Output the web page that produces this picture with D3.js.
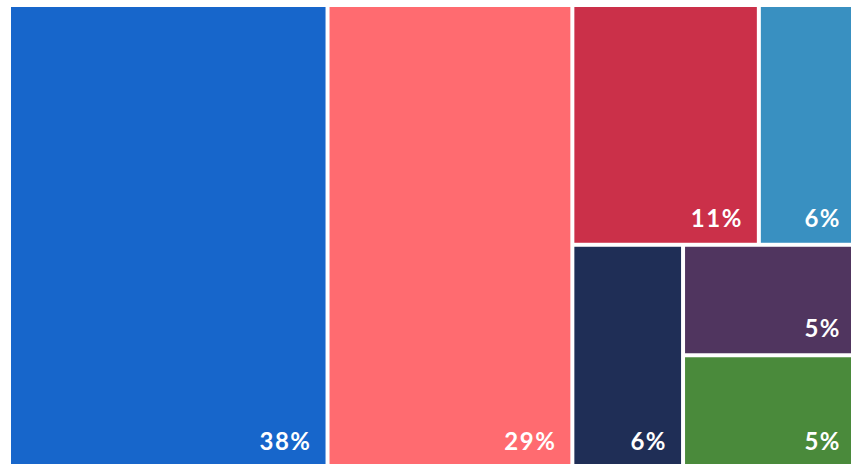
<!DOCTYPE html>
<html>
<head>
<meta charset="utf-8">
<script src="https://cdn.jsdelivr.net/npm/d3@7"></script>
<style>
  body { margin: 0; background: #fff; }
  text { font-family: Lato, "Open Sans", sans-serif; font-weight: 700; fill: #fff; }
</style>
</head>
<body>
<script>
// shares (labels are the rounded values)
var names  = ["a", "b", "c", "d", "e", "f", "g"];
var shares = [37.6, 28.9, 11.4, 6.0, 6.3, 4.9, 5.0];
var labels = ["38%", "29%", "11%", "6%", "6%", "5%", "5%"];
var colors = ["#1766cb", "#ff6b70", "#cb3049", "#3990c1", "#1f2e56", "#50355f", "#4a8a3b"];

var width = 851, height = 464;

var svg = d3.select("body").append("svg")
    .attr("width", width).attr("height", height);

var g = svg.append("g").attr("transform", "translate(11,7)");

var root = d3.hierarchy({
    children: names.map(function(n, i) {
      return { name: n, value: shares[i], label: labels[i], color: colors[i] };
    })
  })
  .sum(function(d) { return d.value || 0; });

// binary split gives the same arrangement as the picture
d3.treemap()
  .tile(d3.treemapBinary)
  .size([844, 459])
  .paddingInner(4)(root);

var cell = g.selectAll(".cell")
  .data(root.leaves())
  .enter().append("g")
  .attr("class", "cell")
  .attr("transform", function(d) { return "translate(" + d.x0 + "," + d.y0 + ")"; });

cell.append("rect")
  .attr("width", function(d) { return d.x1 - d.x0; })
  .attr("height", function(d) { return d.y1 - d.y0; })
  .attr("fill", function(d) { return d.data.color; });

cell.append("text")
  .attr("x", function(d) { return d.x1 - d.x0 - 14; })
  .attr("y", function(d) { return d.y1 - d.y0 - 16; })
  .attr("text-anchor", "end")
  .style("font-size", "24px")
  .style("letter-spacing", "1.5px")
  .text(function(d) { return d.data.label; });
</script>
</body>
</html>
